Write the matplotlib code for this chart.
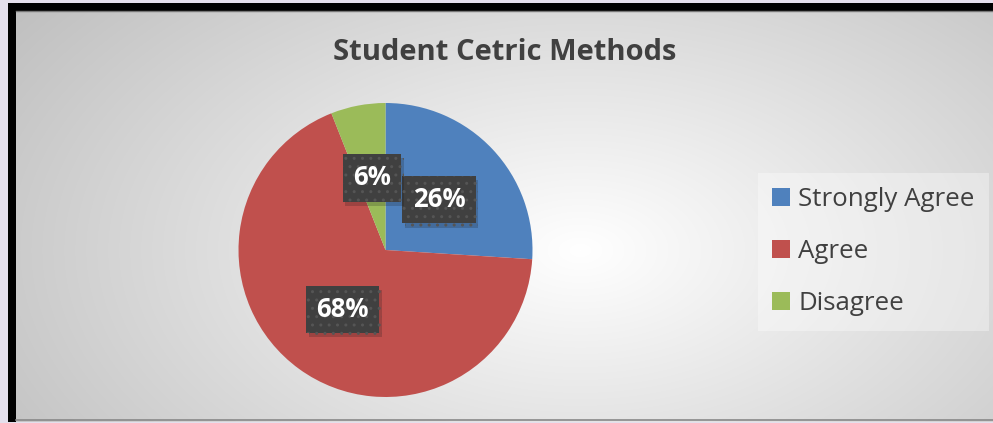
import numpy as np
import matplotlib.pyplot as plt
from matplotlib.patches import Rectangle
import matplotlib.patheffects as pe

# data
categories = ['Strongly Agree', 'Agree', 'Disagree']
shares = [26, 68, 6]
colors = ['#4F81BD', '#C0504D', '#9BBB59']
title = 'Student Cetric Methods'

W, H = 993, 423
fig = plt.figure(figsize=(W / 100, H / 100), dpi=100)
fig.patch.set_facecolor('#E4DFEC')

# region ###### BACKGROUND ######
bg = fig.add_axes([0, 0, 1, 1], zorder=0)
yy, xx = np.mgrid[0:H, 0:W]
d = np.sqrt(((xx - 580) / 560.0) ** 2 + ((yy - 250) / 330.0) ** 2)
val = np.clip(1 - 0.2 * d, 0.74, 1.0)
img = np.dstack([val, val, val])
# outer lavender margin
lav = np.array([0xE4, 0xDF, 0xEC]) / 255
img[:3, :, :] = lav
img[:, :8, :] = lav
img[422:, :, :] = lav
bg.imshow(img, extent=[0, W, H, 0], aspect='auto', interpolation='bilinear')
bg.set_xlim(0, W)
bg.set_ylim(H, 0)
bg.axis('off')
# black frame, top and left
bg.add_patch(Rectangle((8, 3), W - 8, 8, facecolor='black', edgecolor='none'))
bg.add_patch(Rectangle((8, 3), 8, H - 4, facecolor='black', edgecolor='none'))
bg.plot([16, W], [11.5, 11.5], color='#777777', lw=1)
bg.plot([16, W], [420.5, 420.5], color='#888888', lw=1.2)
# endregion

# region ###### PIE ######
ax = fig.add_axes([238.5 / W, 26 / H, 294 / W, 294 / H], zorder=2)
wedges, texts, autotexts = ax.pie(
    shares, colors=colors, startangle=90, counterclock=False,
    autopct='%d%%', pctdistance=0.5, radius=1,
    wedgeprops=dict(linewidth=0),
    textprops=dict(color='white', fontsize=18.5, fontweight='bold', family='Open Sans'))
for t in autotexts:
    t.set_bbox(dict(boxstyle='square,pad=0.4', facecolor='#404040', edgecolor='#555555',
                    linewidth=0, hatch='..'))
    t.get_bbox_patch().set_path_effects([pe.SimplePatchShadow(offset=(2, -3), alpha=0.2),
                                         pe.Normal()])
ax.set_xlim(-1, 1)
ax.set_ylim(-1, 1)
ax.set_aspect('equal')
ax.axis('off')
# endregion

# title
fig.text(505 / W, 1 - 60 / H, title, ha='center', va='baseline', fontsize=21,
         fontweight='bold', color='#404040', family='Open Sans', zorder=3)

# legend
leg = fig.legend(wedges, categories, loc='upper left', bbox_to_anchor=(758 / W, 1 - 173 / H),
                 prop=dict(family='Open Sans', size=18.6), frameon=True,
                 handlelength=0.7, handleheight=0.7, handletextpad=0.3,
                 labelspacing=1.05, borderpad=0.55, borderaxespad=0)
leg.get_frame().set_facecolor('white')
leg.get_frame().set_alpha(0.35)
leg.get_frame().set_edgecolor('none')
leg.get_frame().set_boxstyle('square', pad=0)
for t in leg.get_texts():
    t.set_color('#404040')
leg.set_zorder(3)

plt.savefig('out.png', dpi=100)
